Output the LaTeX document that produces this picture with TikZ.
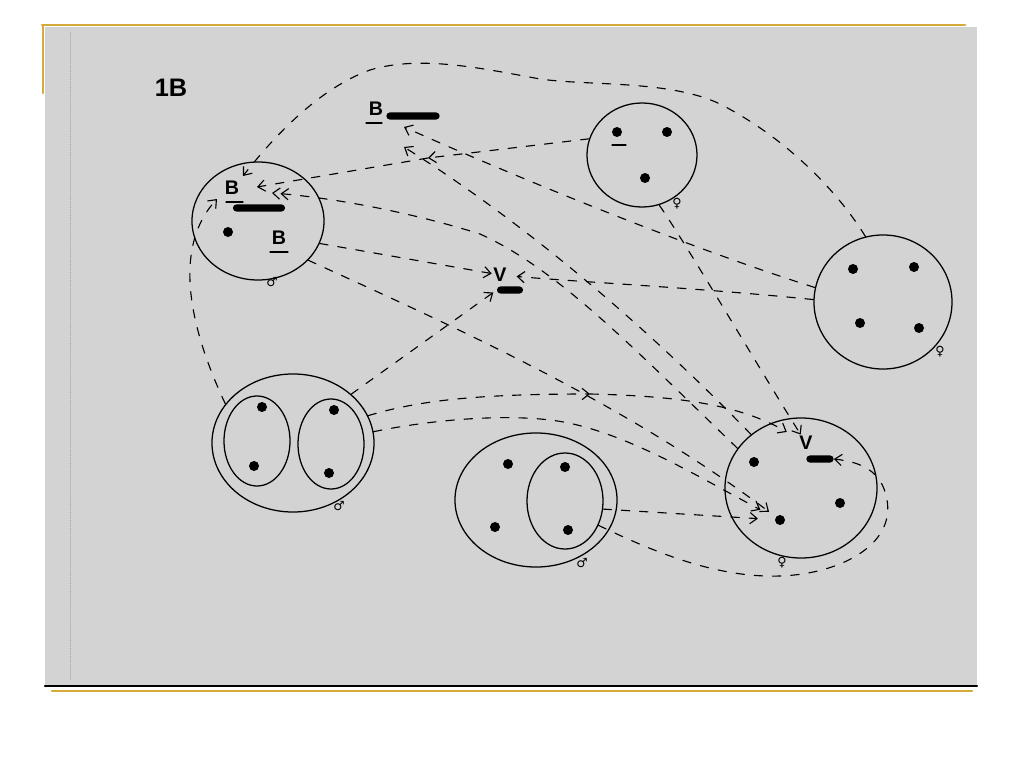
\documentclass[tikz,border=0pt]{standalone}
\usepackage{fontspec}
\setmainfont{Liberation Sans}
\newfontfamily\symfont{DejaVu Sans}
\usetikzlibrary{arrows.meta, calc, shapes.geometric}
\definecolor{panel}{RGB}{211,211,211}
\definecolor{gold}{RGB}{212,170,60}

\begin{document}
\begin{tikzpicture}[x=0.025cm, y=-0.025cm, >={Straight Barb[length=5pt,width=8pt]}, line cap=round, line join=round,
    cell/.style 2 args={ellipse, draw, line width=0.9pt, inner sep=0pt, minimum width=#1, minimum height=#2},
    dot/.style={circle, fill, inner sep=0pt, minimum size=0.25cm},
    chrom/.style={fill, rounded corners=2.4pt, inner sep=0pt, minimum height=5pt},
    letter/.style={font=\bfseries\fontsize{14}{14}\selectfont, inner sep=1pt},
    sex/.style={font=\symfont\fontsize{9}{9}\selectfont, inner sep=0pt},
    conn/.style={dash pattern=on 6pt off 7pt, line width=0.8pt}]
    \useasboundingbox (0,0) rectangle (1024,768);
    \fill[white] (0,0) rectangle (1024,768);

    % slide frame
    \fill[panel] (45,27) rectangle (977,685);
    \draw[gold, line width=2pt] (42,25) -- (965,25);
    \draw[gold, line width=1.5pt] (43,25) -- (43,93);
    \draw[line width=1.5pt] (45,686) -- (977,686);
    \draw[gold, line width=2pt] (52,691) -- (972,691);
    \draw[gray!70, densely dotted] (70,32) -- (70,680);

    \node[font=\bfseries\fontsize{18}{18}\selectfont] (title) at (171,88) {1B};

    % cells
    \node[cell={3.3cm}{2.95cm}] (m1) at (258,221) {};
    \node[cell={2.75cm}{2.6cm}] (f1) at (642,155) {};
    \node[cell={3.45cm}{3.35cm}] (f2) at (883,302) {};
    \node[cell={4.05cm}{3.45cm}] (m2) at (293,443) {};
    \node[cell={1.65cm}{2.25cm}] (m2l) at (257,441) {};
    \node[cell={1.65cm}{2.25cm}] (m2r) at (331,444) {};
    \node[cell={4.05cm}{3.35cm}] (m3) at (536,500) {};
    \node[cell={1.9cm}{2.4cm}] (m3i) at (565,501) {};
    \node[cell={3.8cm}{3.5cm}] (f3) at (801,488) {};

    % chromosomes
    \node[dot] (m1d) at (228,232) {};
    \node[dot] (f1d1) at (617,132) {}; \node[dot] (f1d2) at (667,132) {}; \node[dot] (f1d3) at (645,178) {};
    \node[dot] (f2d1) at (853,269) {}; \node[dot] (f2d2) at (914,267) {};
    \node[dot] (f2d3) at (860,323) {}; \node[dot] (f2d4) at (919,328) {};
    \node[dot] (m2d1) at (262,407) {}; \node[dot] (m2d2) at (254,466) {};
    \node[dot] (m2d3) at (334,410) {}; \node[dot] (m2d4) at (329,473) {};
    \node[dot] (m3d1) at (508,464) {}; \node[dot] (m3d2) at (565,467) {};
    \node[dot] (m3d3) at (495,527) {}; \node[dot] (m3d4) at (568,530) {};
    \node[dot] (f3d1) at (754,462) {}; \node[dot] (f3d2) at (780,520) {}; \node[dot] (f3d3) at (840,503) {};
    \draw[line width=0.8pt] (612,145) -- (626,145);

    % B and V with their bars
    \node[letter] (B1) at (376,109) {B};
    \node[letter] (B2) at (232,188) {B};
    \node[letter] (B3) at (279,238) {B};
    \node[letter] (V1) at (500,275) {V};
    \node[letter] (V2) at (806,443) {V};
    \draw[line width=0.8pt] (366,123) -- (382,123);
    \draw[line width=0.8pt] (226,202) -- (243,202);
    \draw[line width=0.8pt] (270,252) -- (288,252);
    \node[chrom, minimum width=1.33cm] (bar1) at (413,116) {};
    \node[chrom, minimum width=1.3cm] (bar2) at (259,208) {};
    \node[chrom, minimum width=0.65cm] (bar3) at (510,290) {};
    \node[chrom, minimum width=0.68cm] (bar4) at (820,459) {};

    % sex signs
    \node[sex] (s1) at (272,282) {♂};
    \node[sex] (s2) at (677,204) {♀};
    \node[sex] (s3) at (940,352) {♀};
    \node[sex] (s4) at (339,506) {♂};
    \node[sex] (s5) at (582,563) {♂};
    \node[sex] (s6) at (782,563) {♀};

    % arrow tips and bends
    \coordinate (tArc) at (243,176);
    \coordinate (tA) at (257,187);
    \coordinate (tA2) at (272,193);
    \coordinate (tUp) at (217,199);
    \coordinate (tB1) at (404,127);
    \coordinate (tB2) at (404,147);
    \coordinate (jA) at (428,158);
    \coordinate (jB) at (590,394);

    % transfers
    \draw[conn,->] (f2.105) .. controls (840,195) and (790,140) .. (720,104)
        .. controls (670,80) and (590,86) .. (540,79)
        .. controls (480,68) and (420,55) .. (370,70)
        .. controls (320,88) and (275,135) .. (tArc);
    \draw[conn,->] (f1.163) -- (jA);
    \draw[conn,->] (jA) -- (tA);
    \draw[conn,->] (f2.168) .. controls (680,245) and (500,170) .. (tB1);
    \draw[conn,->] (f3.133) .. controls (640,320) and (520,220) .. (tB2);
    \draw[conn,->>] (f3.148) .. controls (640,355) and (560,270) .. (480,234)
        .. controls (420,215) and (340,198) .. (tA2);
    \draw[conn,->] (m2.150) .. controls (200,350) and (165,255) .. (tUp);
    \draw[conn,->] (m1.-20) -- (V1);
    \draw[conn,->,shorten >=3pt] (m2.40) -- (bar3.west);
    \draw[conn,->,shorten >=6pt] (f2.178) .. controls (700,288) and (580,282) .. (V1);
    \draw[conn,->,shorten >=6pt] (m1.-38) .. controls (450,325) and (620,400) .. (f3d2);
    \draw[conn,->] (f1.-71) .. controls (690,250) and (760,370) .. (V2);
    \draw[conn,->] (m2.20) .. controls (420,400) and (480,394) .. (jB);
    \draw[conn,->,shorten >=9pt] (jB) .. controls (680,396) and (740,405) .. (V2);
    \draw[conn,->,shorten >=12pt] (m2.8) .. controls (430,420) and (500,414) .. (550,420)
        .. controls (620,428) and (700,478) .. (f3d2);
    \draw[conn,->,shorten >=12pt] (m3i.-12) -- (f3d2);
    \draw[conn,->] (m3i.-36) .. controls (660,555) and (720,578) .. (780,576)
        .. controls (840,574) and (895,545) .. (887,500)
        .. controls (882,470) and (860,462) .. (bar4.east);
\end{tikzpicture}
\end{document}
